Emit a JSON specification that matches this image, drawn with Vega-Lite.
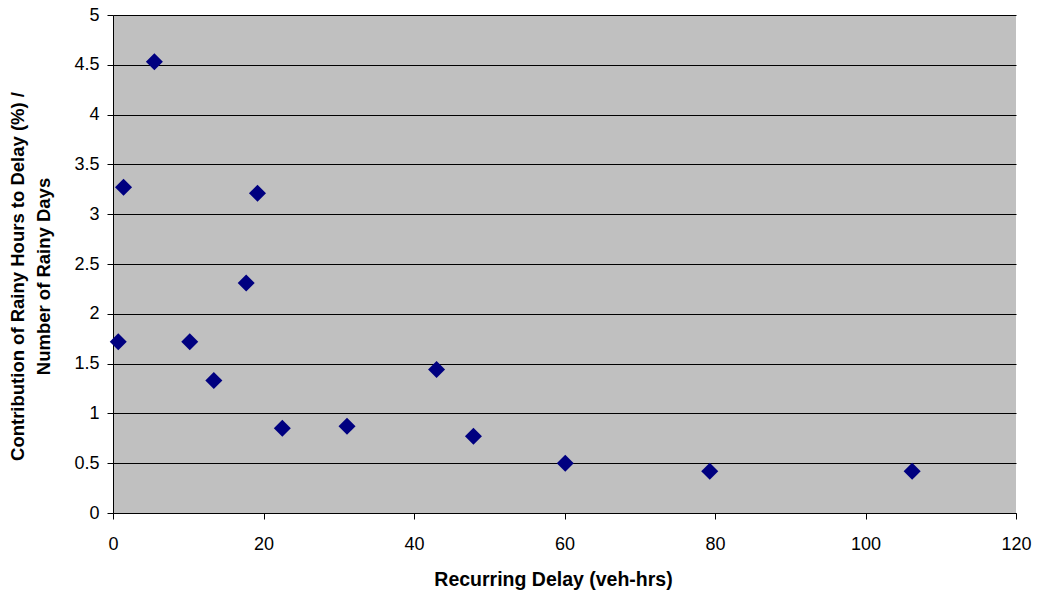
{
  "$schema": "https://vega.github.io/schema/vega-lite/v6.json",
  "width": 903,
  "height": 498,
  "autosize": {"type": "none"},
  "padding": {"left": 113, "top": 15, "right": 21, "bottom": 81},
  "background": "white",
  "config": {
    "font": "Liberation Sans",
    "view": {"fill": "#C0C0C0", "stroke": null}
  },
  "data": {
    "values": [
      {"delay": 0.7, "ratio": 1.72},
      {"delay": 1.4, "ratio": 3.27},
      {"delay": 5.5, "ratio": 4.53},
      {"delay": 10.2, "ratio": 1.72},
      {"delay": 13.4, "ratio": 1.33},
      {"delay": 17.7, "ratio": 2.31},
      {"delay": 19.2, "ratio": 3.21},
      {"delay": 22.5, "ratio": 0.85},
      {"delay": 31.1, "ratio": 0.87},
      {"delay": 43.0, "ratio": 1.44},
      {"delay": 47.9, "ratio": 0.77},
      {"delay": 60.1, "ratio": 0.5},
      {"delay": 79.3, "ratio": 0.42},
      {"delay": 106.2, "ratio": 0.42}
    ]
  },
  "mark": {"type": "point", "shape": "diamond", "filled": true, "color": "#000080", "size": 290, "opacity": 1},
  "encoding": {
    "x": {
      "field": "delay",
      "type": "quantitative",
      "scale": {"domain": [0, 120], "nice": false, "zero": true},
      "axis": {
        "values": [0, 20, 40, 60, 80, 100, 120],
        "title": "Recurring Delay (veh-hrs)",
        "titleFont": "Liberation Sans",
        "titleFontSize": 19.5,
        "titleFontWeight": "bold",
        "titleColor": "black",
        "titleX": 440,
        "titleY": 72,
        "titleAlign": "center",
        "titleBaseline": "alphabetic",
        "labelFontSize": 18,
        "labelColor": "black",
        "labelPadding": 16,
        "labelFlush": false,
        "tickSize": 6,
        "tickColor": "black",
        "domainColor": "black",
        "grid": false
      }
    },
    "y": {
      "field": "ratio",
      "type": "quantitative",
      "scale": {"domain": [0, 5], "nice": false},
      "axis": {
        "values": [0, 0.5, 1, 1.5, 2, 2.5, 3, 3.5, 4, 4.5, 5],
        "format": "~g",
        "title": ["Contribution of Rainy Hours to Delay (%) /", "Number of Rainy Days"],
        "titleFont": "Liberation Sans",
        "titleFontSize": 18.5,
        "titleFontWeight": "bold",
        "titleColor": "black",
        "titleAngle": -90,
        "titleX": -105,
        "titleY": 261,
        "titleAlign": "center",
        "titleBaseline": "top",
        "titleLineHeight": 26,
        "labelFontSize": 18,
        "labelColor": "black",
        "labelPadding": 8,
        "labelFlush": false,
        "tickSize": 6,
        "tickColor": "black",
        "domainColor": "black",
        "grid": true,
        "gridColor": "black",
        "gridWidth": 1,
        "gridOpacity": 1
      }
    }
  }
}
